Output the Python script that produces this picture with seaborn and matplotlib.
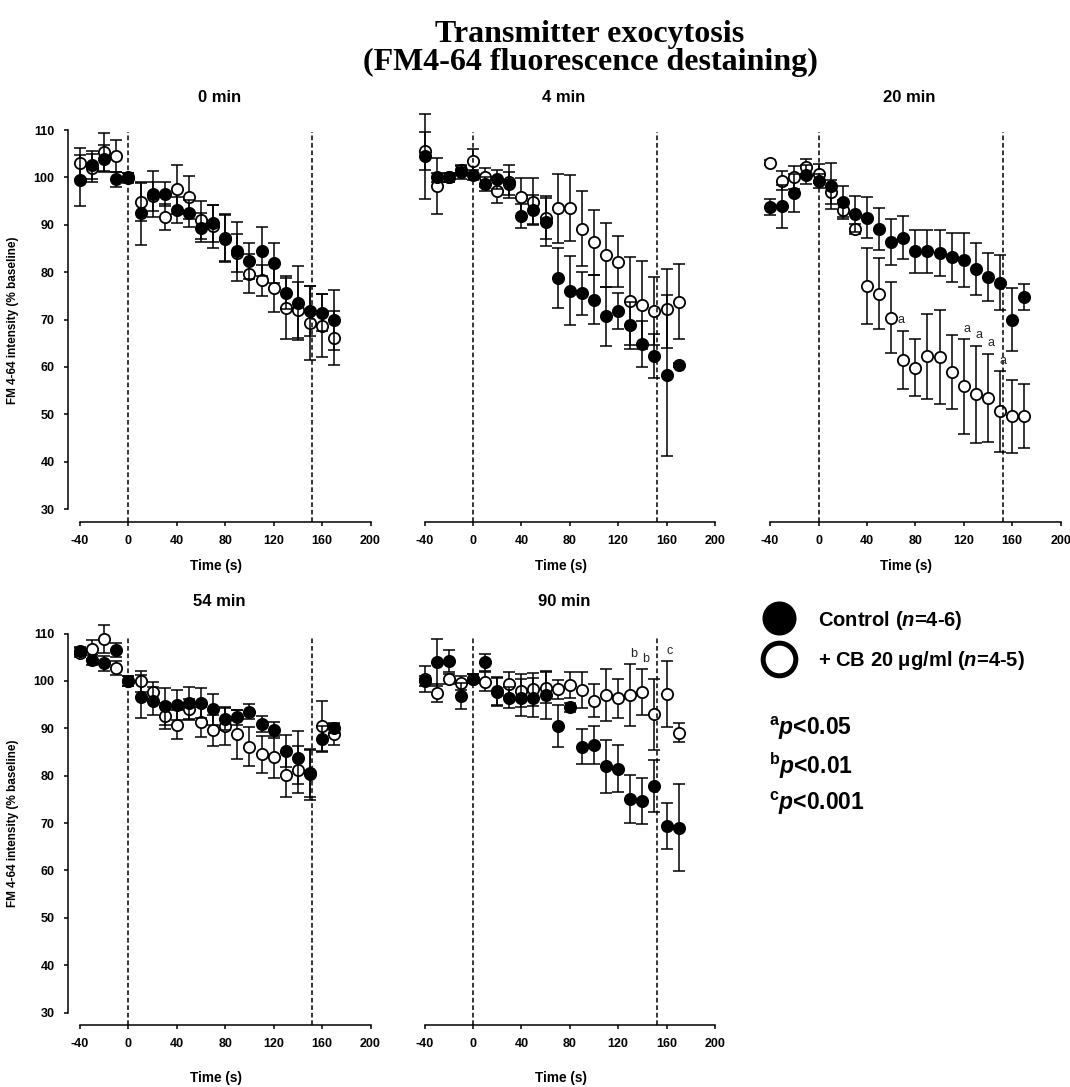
import matplotlib
matplotlib.use("Agg")
import matplotlib.pyplot as plt
from matplotlib.lines import Line2D
import numpy as np
import pandas as pd
import seaborn as sns

# ---------------- data ----------------
time_s = [-40, -30, -20, -10, 0, 10, 20, 30, 40, 50, 60, 70, 80, 90,
          100, 110, 120, 130, 140, 150, 160, 170]
stim_end_s = 152

panel_titles = ["0 min", "4 min", "20 min", "54 min", "90 min"]

ctrl_0 = [99.4, 102.6, 104.0, 99.6, 99.9, 92.4, 96.5, 96.5, 93.1, 92.4, 89.4,
          90.3, 87.3, 84.4, 82.3, 84.4, 82.0, 75.5, 73.5, 71.8, 71.4, 69.9]
ctrl_0_err = [5.4, 3.0, 2.8, 1.6, 1.0, 6.7, 4.8, 2.6, 2.8, 2.8, 3.0,
              3.9, 5.0, 6.2, 3.8, 5.2, 4.2, 3.3, 7.8, 5.3, 3.9, 6.4]
cb_0 = [103.0, 102.0, 105.3, 104.5, 100.0, 94.9, 96.0, 91.7, 97.5, 95.8, 91.1,
        89.7, 87.1, 84.0, 79.7, 78.3, 76.7, 72.5, 72.0, 69.3, 68.7, 66.2]
cb_0_err = [3.3, 3.0, 4.0, 3.4, 1.0, 4.0, 3.0, 2.8, 5.2, 4.5, 4.0,
            4.5, 5.0, 4.0, 4.1, 3.3, 5.2, 6.7, 6.0, 7.8, 6.6, 5.7]

ctrl_4 = [104.5, 100.0, 100.0, 101.2, 100.5, 98.7, 99.6, 98.7, 91.8, 93.2, 90.6,
          78.8, 76.1, 75.5, 74.2, 70.7, 71.8, 68.8, 64.8, 62.3, 58.2, 60.4]
ctrl_4_err = [9.0, 1.0, 1.0, 1.5, 1.0, 1.5, 2.0, 2.5, 2.5, 3.0, 5.0,
              6.3, 7.3, 4.6, 5.2, 6.2, 3.7, 5.0, 4.8, 4.7, 17.0, 0.5]
cb_4 = [105.6, 98.2, 100.0, 101.5, 103.5, 100.0, 97.2, 99.1, 95.9, 94.9, 91.5,
        93.5, 93.5, 89.2, 86.3, 83.6, 82.2, 73.9, 73.0, 71.8, 72.3, 73.8]
cb_4_err = [4.0, 6.0, 1.0, 1.0, 2.5, 2.0, 2.5, 3.5, 4.0, 5.0, 4.5,
            7.3, 7.0, 7.9, 6.8, 6.8, 5.4, 9.3, 9.3, 7.2, 8.3, 8.0]

ctrl_20 = [93.7, 93.9, 96.8, 100.6, 99.3, 98.2, 94.9, 92.3, 91.5, 89.1, 86.4,
           87.3, 84.4, 84.4, 84.1, 83.1, 82.5, 80.6, 79.0, 77.8, 70.0, 74.8]
ctrl_20_err = [1.7, 4.5, 4.0, 2.0, 1.5, 4.8, 3.3, 3.8, 4.3, 4.5, 4.8,
               4.5, 4.5, 4.5, 4.9, 5.1, 5.7, 5.5, 5.1, 5.8, 6.7, 2.7]
cb_20 = [103.1, 99.3, 100.0, 102.3, 100.8, 97.0, 93.2, 89.1, 77.1, 75.4, 70.4,
         61.4, 59.8, 62.2, 62.1, 58.9, 55.9, 54.2, 53.5, 50.6, 49.6, 49.6]
cb_20_err = [0.5, 2.0, 2.5, 1.5, 2.0, 2.5, 2.0, 1.0, 8.0, 7.5, 7.5,
             6.1, 6.0, 9.0, 10.0, 7.8, 10.0, 10.3, 9.3, 8.5, 7.7, 6.7]

ctrl_54 = [106.3, 104.4, 103.7, 106.5, 100.0, 96.7, 95.8, 94.7, 94.9, 95.3, 95.3,
           94.0, 91.9, 92.3, 93.5, 91.0, 89.6, 85.2, 83.8, 80.3, 87.8, 90.1]
ctrl_54_err = [0.8, 1.0, 1.6, 1.5, 1.0, 4.5, 3.0, 3.9, 3.1, 3.5, 3.2,
               3.2, 2.3, 1.5, 1.6, 1.7, 1.7, 3.3, 5.6, 5.4, 2.6, 1.0]
cb_54 = [106.0, 106.7, 108.8, 102.8, 100.0, 99.9, 97.7, 92.6, 90.8, 94.0, 91.3,
         89.6, 90.4, 88.7, 86.1, 84.5, 84.0, 80.1, 81.3, 80.5, 90.4, 88.7]
cb_54_err = [1.0, 2.0, 3.0, 1.5, 1.0, 2.2, 2.1, 2.7, 3.1, 2.1, 3.1,
             3.3, 4.0, 5.1, 4.1, 3.9, 4.4, 4.7, 4.9, 5.0, 5.4, 2.3]

ctrl_90 = [100.0, 103.9, 104.2, 96.8, 100.5, 103.9, 97.7, 96.5, 96.5, 96.5, 97.0,
           90.5, 94.4, 86.1, 86.4, 82.0, 81.5, 75.1, 74.6, 77.8, 69.4, 69.0]
ctrl_90_err = [1.0, 4.9, 2.3, 2.8, 1.0, 1.7, 3.0, 2.3, 4.0, 4.2, 5.0,
               4.4, 1.0, 3.7, 4.0, 5.6, 5.0, 5.0, 4.9, 5.5, 4.8, 9.2]
cb_90 = [100.4, 97.5, 100.4, 99.6, 100.5, 99.8, 97.9, 99.3, 97.9, 98.2, 98.6,
         98.2, 99.1, 98.0, 95.8, 97.0, 96.3, 97.0, 97.7, 93.0, 97.2, 89.1]
cb_90_err = [2.7, 1.9, 1.0, 1.5, 1.0, 2.0, 3.0, 2.5, 3.5, 3.5, 3.3,
             2.0, 2.7, 3.8, 3.5, 5.5, 4.2, 6.5, 4.8, 7.5, 7.0, 2.0]

# significance (CB vs control)
sig_20_times = [60, 120, 130, 140, 150]
sig_20_labels = ["a", "a", "a", "a", "a"]
sig_90_times = [130, 140, 160]
sig_90_labels = ["b", "b", "c"]

legend_labels = [r"Control ($\mathit{n}$=4-6)", r"+ CB 20 μg/ml ($\mathit{n}$=4-5)"]
p_labels = [r"$^{\mathrm{a}}\mathit{p}$<0.05", r"$^{\mathrm{b}}\mathit{p}$<0.01",
            r"$^{\mathrm{c}}\mathit{p}$<0.001"]

# ---------------- style ----------------
sns.set_theme(style="ticks")
plt.rcParams.update({
    "font.family": ["Liberation Sans", "DejaVu Sans"],
    "font.weight": "bold",
    "axes.unicode_minus": False,
    "mathtext.fontset": "custom",
    "mathtext.rm": "Liberation Sans:bold",
    "mathtext.bf": "Liberation Sans:bold",
    "mathtext.it": "Liberation Sans:italic:bold",
    "axes.linewidth": 1.1,
    "axes.edgecolor": "black",
    "axes.labelcolor": "black",
    "text.color": "black",
    "xtick.color": "black",
    "ytick.color": "black",
    "xtick.major.width": 1.1,
    "ytick.major.width": 1.1,
})

W, H = 1070, 1087
fig = plt.figure(figsize=(W / 100, H / 100), dpi=100)

col_left_px = [67.9, 412.4, 758.0]
ax_w_px = 302.6
row_bottom_px = [521.8, 1025.3]
ax_h_px = 415.4
XLIM = (-50, 200)
YLIM = (27.3, 115)


def make_ax(col, row):
    return fig.add_axes([col_left_px[col] / W, 1 - row_bottom_px[row] / H,
                         ax_w_px / W, ax_h_px / H])


def draw_panel(ax, title, ctrl, ctrl_err, cb, cb_err, show_y, row,
               sig_times=None, sig_labels=None):
    df = pd.DataFrame({
        "time": time_s * 2,
        "value": cb + ctrl,
        "err": cb_err + ctrl_err,
        "group": ["CB"] * len(time_s) + ["Control"] * len(time_s),
    })
    z = 2
    for group, face in [("CB", "white"), ("Control", "black")]:
        sub = df[df["group"] == group]
        ax.errorbar(sub["time"], sub["value"], yerr=sub["err"], fmt="none",
                    ecolor="black", elinewidth=1.1, capsize=4.2, capthick=1.1,
                    clip_on=False, zorder=z)
        sns.scatterplot(data=sub, x="time", y="value", ax=ax, color=face,
                        edgecolor="black", linewidth=1.3, s=66, zorder=z + 1,
                        clip_on=False, legend=False)
        if group == "CB":
            ax.vlines([0, stim_end_s], YLIM[0], 109.5, colors="black",
                      linestyles=(0, (3.1, 1.8)), linewidth=1.1, zorder=3.5)
        z += 2

    if sig_times is not None:
        for t, lab in zip(sig_times, sig_labels):
            i = time_s.index(t)
            if lab == "a" and t == sig_times[0]:
                ax.text(t + 5, cb[i] - 0.6, lab, fontsize=9, fontweight="normal",
                        ha="left", va="center", color="#222222", zorder=8)
            else:
                ax.text(t + 2.5, cb[i] + cb_err[i] + 0.9, lab, fontsize=9,
                        fontweight="normal", ha="center", va="bottom",
                        color="#222222", zorder=8)

    ax.set_xlim(*XLIM)
    ax.set_ylim(*YLIM)
    ax.set_xticks([-40, 0, 40, 80, 120, 160, 200])
    ax.set_yticks([30, 40, 50, 60, 70, 80, 90, 100, 110])
    ax.tick_params(axis="both", direction="out", length=3.2, width=1.1,
                   labelsize=9, pad=6.3, color="black", labelcolor="black")
    for lab in ax.get_xticklabels() + ax.get_yticklabels():
        lab.set_fontweight("bold")
    sns.despine(ax=ax)
    ax.spines["bottom"].set_bounds(-40, 200)
    ax.spines["left"].set_bounds(30, 110)
    if not show_y:
        ax.spines["left"].set_visible(False)
        ax.tick_params(axis="y", left=False, labelleft=False)
        ax.set_ylabel("")
    else:
        ax.set_ylabel("FM 4-64 intensity (% baseline)", fontsize=8.5,
                      fontweight="bold")
        ax.yaxis.label.set_va("center")
        ax.yaxis.set_label_coords(-0.181, 0.486)
    ax.set_xlabel("Time (s)", fontsize=9.8, fontweight="bold")
    ax.xaxis.label.set_va("center")
    ax.xaxis.set_label_coords(0.49, -0.106 if row == 0 else -0.127)
    ax.set_title(title, fontsize=12, fontweight="bold", pad=3)


ax0 = make_ax(0, 0)
draw_panel(ax0, panel_titles[0], ctrl_0, ctrl_0_err, cb_0, cb_0_err, True, 0)
ax1 = make_ax(1, 0)
draw_panel(ax1, panel_titles[1], ctrl_4, ctrl_4_err, cb_4, cb_4_err, False, 0)
ax2 = make_ax(2, 0)
draw_panel(ax2, panel_titles[2], ctrl_20, ctrl_20_err, cb_20, cb_20_err, False, 0,
           sig_20_times, sig_20_labels)
ax3 = make_ax(0, 1)
draw_panel(ax3, panel_titles[3], ctrl_54, ctrl_54_err, cb_54, cb_54_err, True, 1)
ax4 = make_ax(1, 1)
draw_panel(ax4, panel_titles[4], ctrl_90, ctrl_90_err, cb_90, cb_90_err, False, 1,
           sig_90_times, sig_90_labels)

# main title
fig.text(590 / W, 1 - 48.5 / H,
         "Transmitter exocytosis\n(FM4-64 fluorescence destaining)",
         family=["Liberation Serif", "DejaVu Serif"], fontweight="bold",
         fontsize=23, ha="center", va="center", linespacing=0.97)

# legend
handles = [
    Line2D([], [], ls="", marker="o", markersize=23.5, markerfacecolor="black",
           markeredgecolor="black", markeredgewidth=1.0),
    Line2D([], [], ls="", marker="o", markersize=23.5, markerfacecolor="white",
           markeredgecolor="black", markeredgewidth=3.6),
]
fig.legend(handles, legend_labels, loc="upper left",
           bbox_to_anchor=(764 / W, 1 - 608.5 / H), frameon=False,
           handlelength=1.5, handletextpad=1.2,
           labelspacing=0.85, borderpad=0, borderaxespad=0,
           prop={"weight": "bold", "size": 14.5})

for k, lab in enumerate(p_labels):
    fig.text(769 / W, 1 - (728 + 37.5 * k) / H, lab, fontsize=16.5,
             fontweight="bold", ha="left", va="center")

fig.savefig("out.png", dpi=100)
